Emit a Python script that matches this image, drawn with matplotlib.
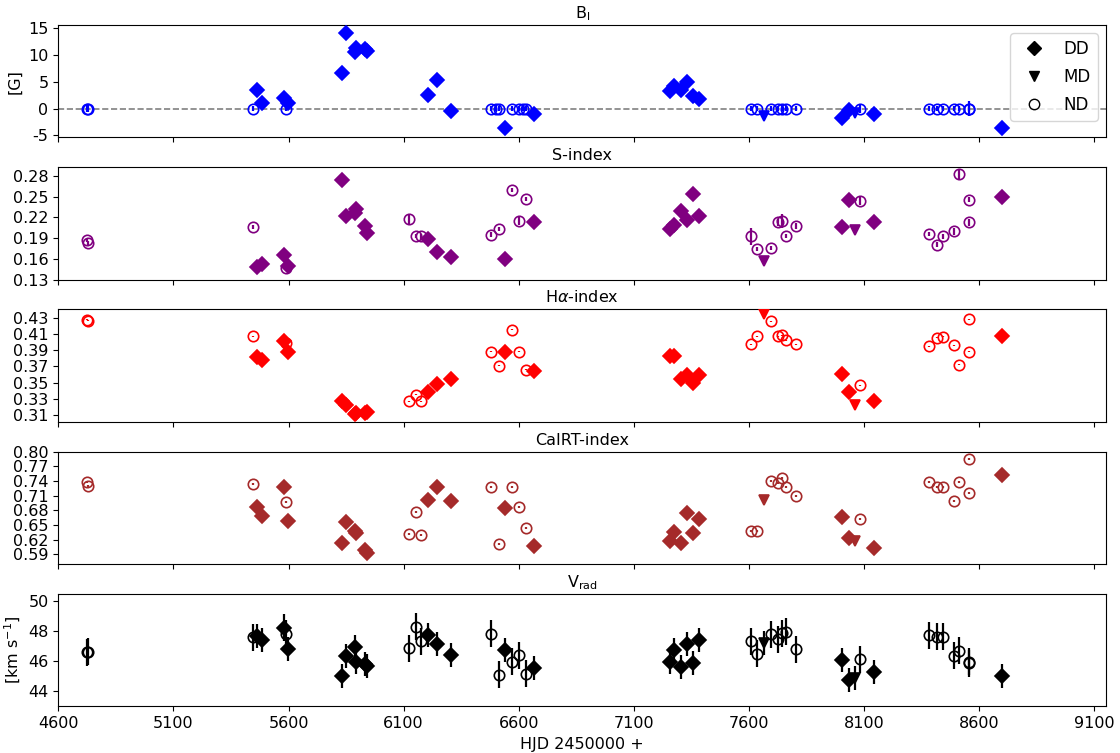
import numpy as np
import matplotlib
matplotlib.use("Agg")
import matplotlib.pyplot as plt
from matplotlib.lines import Line2D
from matplotlib.ticker import FormatStrFormatter

nan = np.nan

# observing epochs (HJD - 2450000) and detection class per epoch
hjd = [4727, 4731, 5444, 5461, 5484, 5582, 5589, 5597, 5831, 5848,
       5888, 5893, 5933, 5941, 6125, 6154, 6175, 6205, 6245, 6304,
       6481, 6503, 6516, 6538, 6571, 6601, 6619, 6630, 6666, 7255,
       7272, 7306, 7329, 7357, 7381, 7608, 7633, 7666, 7694, 7725,
       7743, 7760, 7802, 8004, 8032, 8058, 8083, 8143, 8381, 8415,
       8440, 8491, 8513, 8554, 8556, 8700]
detection = ["ND", "ND", "ND", "DD", "DD", "DD", "ND", "DD", "DD", "DD",
             "DD", "DD", "DD", "DD", "ND", "ND", "ND", "DD", "DD", "DD",
             "ND", "ND", "ND", "DD", "ND", "ND", "ND", "ND", "DD", "DD",
             "DD", "DD", "DD", "DD", "DD", "ND", "ND", "MD", "ND", "ND",
             "ND", "ND", "ND", "DD", "DD", "MD", "ND", "DD", "ND", "ND",
             "ND", "ND", "ND", "ND", "ND", "DD"]

# longitudinal field [G]
bl = [0.0, 0.0, 0.0, 3.5, 1.1, 1.9, 0.0, 1.0, 6.7, 14.0,
      10.5, 11.3, 11.1, 10.7, nan, nan, nan, 2.5, 5.3, -0.4,
      0.0, 0.0, 0.0, -3.6, 0.0, 0.0, 0.0, 0.0, -1.0, 3.2,
      4.2, 3.4, 4.9, 2.3, 1.8, 0.0, 0.0, -1.4, 0.0, 0.0,
      0.0, 0.0, 0.0, -1.7, -0.2, -0.8, 0.0, -1.1, 0.0, 0.0,
      0.0, 0.0, 0.0, 0.0, 0.0, -3.6]
bl_err = [0.6, 0.6, 0.5, 0.5, 0.5, 0.5, 0.5, 0.5, 0.5, 0.5,
          0.5, 0.5, 0.5, 0.5, nan, nan, nan, 0.5, 0.5, 0.5,
          0.5, 0.5, 0.5, 0.5, 0.5, 0.5, 0.5, 0.5, 0.5, 0.5,
          0.5, 0.5, 0.5, 0.5, 0.5, 0.5, 0.5, 0.5, 0.5, 0.5,
          0.5, 0.5, 0.5, 0.5, 0.5, 0.5, 0.8, 0.5, 0.5, 0.5,
          0.5, 0.5, 0.5, 1.4, 0.5, 0.5]

s_index = [0.1875, 0.1834, 0.206, 0.148, 0.153, 0.165, 0.147, 0.150, 0.274, 0.222,
           0.227, 0.232, 0.208, 0.198, 0.218, 0.1935, 0.1925, 0.1885, 0.170, 0.163,
           0.195, nan, 0.203, 0.160, 0.2597, 0.2154, nan, 0.247, 0.214, 0.204,
           0.209, 0.2297, 0.217, 0.2546, 0.2215, 0.1925, 0.1747, 0.157, 0.1763, 0.213,
           0.2154, 0.1936, 0.2078, 0.2063, 0.2459, 0.2012, 0.2444, 0.2139, 0.196, 0.1808,
           0.1925, 0.200, 0.2825, 0.246, 0.2129, 0.250]
s_err = [0.003, 0.003, 0.003, 0.002, 0.002, 0.002, 0.003, 0.002, 0.002, 0.002,
         0.002, 0.002, 0.002, 0.002, 0.007, 0.003, 0.003, 0.002, 0.002, 0.002,
         0.004, nan, 0.003, 0.002, 0.003, 0.006, nan, 0.003, 0.002, 0.002,
         0.002, 0.002, 0.002, 0.002, 0.002, 0.012, 0.003, 0.002, 0.003, 0.005,
         0.010, 0.003, 0.004, 0.002, 0.002, 0.002, 0.007, 0.002, 0.003, 0.003,
         0.003, 0.005, 0.008, 0.003, 0.005, 0.002]

halpha = [0.427, 0.426, 0.407, 0.3816, 0.378, 0.401, 0.399, 0.388, 0.328, 0.323,
          0.312, 0.313, 0.313, 0.314, 0.327, 0.335, 0.327, 0.338, 0.348, 0.354,
          0.388, nan, 0.371, 0.388, 0.415, 0.388, nan, 0.366, 0.364, 0.3825,
          0.3825, 0.355, 0.360, 0.350, 0.359, 0.397, 0.407, 0.434, 0.4255, 0.407,
          0.408, 0.402, 0.397, 0.361, 0.338, 0.323, 0.347, 0.3275, 0.3948, 0.4054,
          0.4062, 0.396, 0.3722, 0.428, 0.3878, 0.4075]
halpha_err = 0.0006

cairt = [0.738, 0.730, 0.734, 0.686, 0.669, 0.728, 0.696, 0.659, 0.614, 0.657,
         0.637, 0.634, 0.599, 0.593, 0.632, 0.676, 0.629, 0.701, 0.7275, 0.698,
         0.727, nan, 0.611, 0.684, 0.728, 0.687, nan, 0.644, 0.606, 0.618,
         0.635, 0.613, 0.674, 0.633, 0.6625, 0.638, 0.638, 0.701, 0.740, 0.736,
         0.7465, 0.727, 0.709, 0.666, 0.623, 0.6165, 0.662, 0.603, 0.738, 0.728,
         0.728, 0.699, 0.737, 0.784, 0.715, 0.752]
cairt_err = 0.002

# radial velocity [km/s]
vrad = [46.6, 46.65, 47.6, 47.7, 47.4, 48.24, 47.84, 46.8, 45.04, 46.38,
        46.98, 45.98, 45.83, 45.72, 46.87, 48.3, 47.35, 47.75, 47.18, 46.43,
        47.84, nan, 45.1, 46.78, 45.96, 46.4, nan, 45.17, 45.54, 45.98,
        46.76, 45.65, 47.13, 45.92, 47.42, 47.35, 46.5, 47.24, 47.8, 47.46,
        47.86, 47.97, 46.8, 46.1, 44.77, 44.88, 46.14, 45.28, 47.75, 47.64,
        47.64, 46.38, 46.69, 45.98, 45.87, 44.99]
vrad_err = [0.9, 0.9, 0.9, 0.8, 0.8, 0.9, 0.9, 0.8, 0.8, 0.8,
            0.8, 0.8, 0.8, 0.8, 0.9, 0.9, 0.9, 0.8, 0.8, 0.8,
            0.9, nan, 0.9, 0.8, 0.9, 0.9, nan, 0.9, 0.8, 0.8,
            0.8, 0.8, 0.8, 0.8, 0.8, 0.9, 0.9, 0.8, 0.9, 0.9,
            0.9, 0.9, 0.9, 0.8, 0.8, 0.8, 0.9, 0.8, 0.9, 0.9,
            0.9, 0.9, 0.9, 0.9, 0.9, 0.8]

PANELS = [
    ("B$_\\mathrm{l}$", bl, bl_err, "blue", [-5, 0, 5, 10, 15], (-5.35, 15.6), "%d"),
    ("S-index", s_index, s_err, "purple",
     [0.13, 0.16, 0.19, 0.22, 0.25, 0.28], (0.13, 0.293), "%.2f"),
    ("H$\\alpha$-index", halpha, halpha_err, "red",
     [0.31, 0.33, 0.35, 0.37, 0.39, 0.41, 0.43], (0.302, 0.440), "%.2f"),
    ("CaIRT-index", cairt, cairt_err, "brown",
     [0.59, 0.62, 0.65, 0.68, 0.71, 0.74, 0.77, 0.80], (0.570, 0.800), "%.2f"),
    ("V$_\\mathrm{rad}$", vrad, vrad_err, "black", [44, 46, 48, 50], (43.0, 50.5), "%d"),
]

MARKERS = {"ND": "o", "MD": "v", "DD": "D"}
MS = 7.5
FS = 11.5

plt.rcParams["font.size"] = FS

x = np.array(hjd, dtype=float)
kind = np.array(detection)

fig, axes = plt.subplots(5, 1, figsize=(11.2, 7.53), dpi=100, sharex=True)
fig.subplots_adjust(left=0.052, right=0.9875, top=0.967, bottom=0.062, hspace=0.265)

for ax, (title, vals, errs, col, ticks, ylim, fmt) in zip(axes, PANELS):
    y = np.array(vals, dtype=float)
    e = np.broadcast_to(np.array(errs, dtype=float), y.shape)
    # non-detections underneath, definite detections on top
    for k in ["ND", "MD", "DD"]:
        sel = (kind == k) & ~np.isnan(y)
        if not sel.any():
            continue
        face = "none" if k == "ND" else col
        ax.errorbar(x[sel], y[sel], yerr=e[sel], fmt=MARKERS[k], ms=MS,
                    mfc=face, mec=col, mew=1.2, ecolor=col, elinewidth=1.6,
                    capsize=0, zorder=3)
    ax.set_title(title, fontsize=FS, pad=5)
    ax.set_yticks(ticks)
    ax.set_ylim(*ylim)
    ax.yaxis.set_major_formatter(FormatStrFormatter(fmt))

axes[0].axhline(0, color="gray", ls="--", lw=1.2, zorder=1)
axes[0].set_ylabel("[G]")
axes[4].set_ylabel("[km s$^{-1}$]")
axes[4].set_xlabel("HJD 2450000 +")
axes[4].set_xlim(4600, 9150)
axes[4].set_xticks(np.arange(4600, 9101, 500))

handles = [Line2D([], [], ls="none", marker="D", color="black", ms=MS),
           Line2D([], [], ls="none", marker="v", color="black", ms=MS),
           Line2D([], [], ls="none", marker="o", mfc="none", mec="black", ms=MS)]
axes[0].legend(handles, ["DD", "MD", "ND"], loc="upper right", fontsize=12,
               handlelength=2.0, labelspacing=0.6)

fig.savefig("out.png", dpi=100)
